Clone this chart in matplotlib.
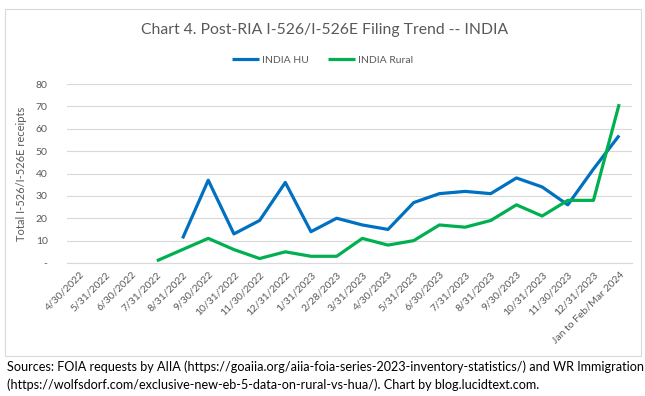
import numpy as np
import matplotlib.pyplot as plt
from matplotlib.patches import Rectangle

plt.rcParams['font.family'] = ['Lato', 'DejaVu Sans']

months = ['4/30/2022', '5/31/2022', '6/30/2022', '7/31/2022', '8/31/2022',
          '9/30/2022', '10/31/2022', '11/30/2022', '12/31/2022', '1/31/2023',
          '2/28/2023', '3/31/2023', '4/30/2023', '5/31/2023', '6/30/2023',
          '7/31/2023', '8/31/2023', '9/30/2023', '10/31/2023', '11/30/2023',
          '12/31/2023', 'Jan to Feb/Mar 2024']

india_hu = [None, None, None, None, 11, 37, 13, 19, 36, 14, 20, 17, 15,
            27, 31, 32, 31, 38, 34, 26, 42, 57]
india_rural = [None, None, None, 1, 6, 11, 6, 2, 5, 3, 3, 11, 8,
               10, 17, 16, 19, 26, 21, 28, 28, 71]

GREY = '#595959'
W, H = 645, 396


def to_arr(vals):
    return np.array([np.nan if v is None else v for v in vals], dtype=float)


def main():
    fig = plt.figure(figsize=(W / 100, H / 100), dpi=100)

    # chart area border
    fig.patches.append(Rectangle((5 / W, 1 - 356 / H), 636 / W, 347 / H,
                                 transform=fig.transFigure, fill=False,
                                 edgecolor='#D9D9D9', linewidth=0.8))

    ax = fig.add_axes([67 / W, 1 - 263 / H, 565 / W, 179 / H])
    x = np.arange(len(months))
    ax.plot(x, to_arr(india_hu), color='#0070C0', linewidth=2.3,
            label='INDIA HU', solid_capstyle='butt')
    ax.plot(x, to_arr(india_rural), color='#00B050', linewidth=2.3,
            label='INDIA Rural', solid_capstyle='butt')

    ax.set_xlim(-0.5, len(months) - 0.5)
    ax.set_ylim(0, 80)
    ax.set_yticks(range(0, 81, 10))
    ax.set_yticklabels(['-'] + [str(v) for v in range(10, 81, 10)])
    ax.set_xticks(x)
    ax.set_xticklabels(months, rotation=45, ha='right', rotation_mode='anchor')
    ax.tick_params(axis='both', length=0, labelsize=7.5, colors=GREY)
    ax.tick_params(axis='y', pad=14)
    ax.tick_params(axis='x', pad=5)
    ax.grid(axis='y', color='#D9D9D9', linewidth=0.8)
    ax.set_axisbelow(True)
    for side in ['top', 'right', 'left']:
        ax.spines[side].set_visible(False)
    ax.spines['bottom'].set_color('#D9D9D9')
    ax.spines['bottom'].set_linewidth(0.8)
    ax.set_ylabel('Total I-526/I-526E receipts', fontsize=8, color=GREY, labelpad=6)

    fig.text(325 / W, 1 - 30 / H, 'Chart 4. Post-RIA I-526/I-526E Filing Trend -- INDIA',
             ha='center', va='center', fontsize=11.3, color=GREY)
    fig.legend(loc='center', bbox_to_anchor=(0.5, 1 - 60 / H), ncol=2, frameon=False,
               fontsize=7.5, labelcolor=GREY, handlelength=2.6, handletextpad=0.3,
               columnspacing=1.8)

    fig.text(7 / W, 1 - 367 / H,
             'Sources: FOIA requests by AIIA (https://goaiia.org/aiia-foia-series-2023-inventory-statistics/) and WR Immigration',
             ha='left', va='center', fontsize=9.1, color='black')
    fig.text(7 / W, 1 - 385 / H,
             '(https://wolfsdorf.com/exclusive-new-eb-5-data-on-rural-vs-hua/). Chart by blog.lucidtext.com.',
             ha='left', va='center', fontsize=9.1, color='black')

    fig.savefig('out.png', dpi=100)


if __name__ == '__main__':
    main()
